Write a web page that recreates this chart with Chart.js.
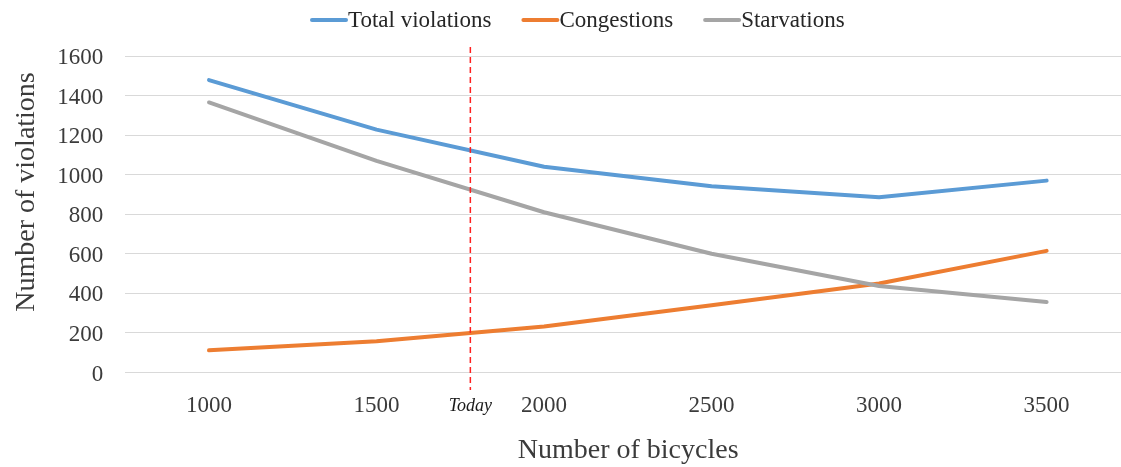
<!DOCTYPE html>
<html>
<head>
<meta charset="utf-8">
<title>Violations vs. fleet size</title>
<script src="https://cdn.jsdelivr.net/npm/chart.js@4.4.1/dist/chart.umd.min.js"></script>
<style>
  html, body { margin: 0; padding: 0; background: #ffffff; }
  #wrap { width: 1121px; height: 467px; position: relative; }
</style>
</head>
<body>
<div id="wrap"><canvas id="chart" width="1121" height="467"></canvas></div>
<script>
// Fleet sizes simulated and the resulting violation counts
const bicycles = [1000, 1500, 2000, 2500, 3000, 3500];
const totalViolations = [1478, 1228, 1040, 942, 886, 970];
const congestions = [112, 158, 232, 340, 450, 615];
const starvations = [1365, 1070, 810, 600, 437, 356];
const yTicks = [0, 200, 400, 600, 800, 1000, 1200, 1400, 1600];
const todayBicycles = 1780;
const todayLabel = 'Today';
const seriesNames = ['Total violations', 'Congestions', 'Starvations'];
const seriesColors = ['#5B9BD5', '#ED7D31', '#A5A5A5'];
const xTitle = 'Number of bicycles';
const yTitle = 'Number of violations';

const serif = '"Liberation Serif", "Times New Roman", serif';
const textColor = '#3b3b3b';

const toPoints = vals => bicycles.map((b, i) => ({ x: b, y: vals[i] }));
const seriesValues = [totalViolations, congestions, starvations];

// Legend row across the top: a short coloured stroke followed by the name
const legendRow = {
  id: 'legendRow',
  afterDraw(chart) {
    const ctx = chart.ctx;
    ctx.save();
    ctx.font = '23px ' + serif;
    ctx.textBaseline = 'middle';
    ctx.textAlign = 'left';
    let x = 310;
    const y = 20;
    seriesNames.forEach((name, i) => {
      ctx.strokeStyle = seriesColors[i];
      ctx.lineWidth = 4;
      ctx.lineCap = 'round';
      ctx.beginPath();
      ctx.moveTo(x + 2, y);
      ctx.lineTo(x + 36, y);
      ctx.stroke();
      ctx.fillStyle = '#262626';
      ctx.fillText(name, x + 38, y + 1);
      x += 38 + ctx.measureText(name).width + 30;
    });
    ctx.restore();
  }
};

// Axis titles
const axisTitles = {
  id: 'axisTitles',
  afterDraw(chart) {
    const ctx = chart.ctx;
    const area = chart.chartArea;
    ctx.save();
    ctx.fillStyle = textColor;
    ctx.font = '28px ' + serif;
    ctx.textAlign = 'center';
    ctx.textBaseline = 'middle';
    ctx.fillText(xTitle, (area.left + area.right) / 2 + 5, 451);
    ctx.translate(27, 192);
    ctx.rotate(-Math.PI / 2);
    ctx.fillText(yTitle, 0, 0);
    ctx.restore();
  }
};

// Dashed marker for the current fleet size
const todayMarker = {
  id: 'todayMarker',
  afterDatasetsDraw(chart) {
    const ctx = chart.ctx;
    const px = chart.scales.x.getPixelForValue(todayBicycles);
    ctx.save();
    ctx.strokeStyle = '#FF2020';
    ctx.lineWidth = 1.5;
    ctx.setLineDash([6, 4]);
    ctx.beginPath();
    ctx.moveTo(px, 47);
    ctx.lineTo(px, 390);
    ctx.stroke();
    ctx.setLineDash([]);
    ctx.fillStyle = '#1a1a1a';
    ctx.font = 'italic 18px ' + serif;
    ctx.textAlign = 'center';
    ctx.textBaseline = 'middle';
    ctx.fillText(todayLabel, px, 406);
    ctx.restore();
  }
};

new Chart(document.getElementById('chart'), {
  type: 'line',
  data: {
    datasets: seriesNames.map((name, i) => ({
      label: name,
      data: toPoints(seriesValues[i]),
      borderColor: seriesColors[i],
      backgroundColor: seriesColors[i],
      borderWidth: 4,
      borderCapStyle: 'round',
      borderJoinStyle: 'round',
      pointRadius: 0,
      tension: 0,
      fill: false,
      order: 3 - i
    }))
  },
  options: {
    responsive: false,
    animation: false,
    devicePixelRatio: 1,
    layout: { padding: { top: 56, left: 0, right: 0, bottom: 0 } },
    plugins: {
      legend: { display: false },
      tooltip: { enabled: false },
      title: { display: false }
    },
    scales: {
      x: {
        type: 'linear',
        min: 750,
        max: 3722,
        afterFit(scale) { scale.height = 94.5; },
        afterBuildTicks(scale) { scale.ticks = bicycles.map(v => ({ value: v })); },
        grid: { display: false },
        border: { display: false },
        ticks: {
          autoSkip: false,
          maxRotation: 0,
          padding: 12,
          color: textColor,
          font: { family: serif, size: 23 },
          callback: v => String(v)
        }
      },
      y: {
        min: 0,
        max: 1600,
        afterFit(scale) { scale.width = 125.25; },
        afterBuildTicks(scale) { scale.ticks = yTicks.map(v => ({ value: v })); },
        grid: { color: '#D9D9D9', lineWidth: 1, drawTicks: false },
        border: { display: false },
        ticks: {
          padding: 22,
          labelOffset: 2,
          color: textColor,
          font: { family: serif, size: 23 },
          callback: v => String(v)
        }
      }
    }
  },
  plugins: [todayMarker, legendRow, axisTitles]
});
</script>
</body>
</html>
